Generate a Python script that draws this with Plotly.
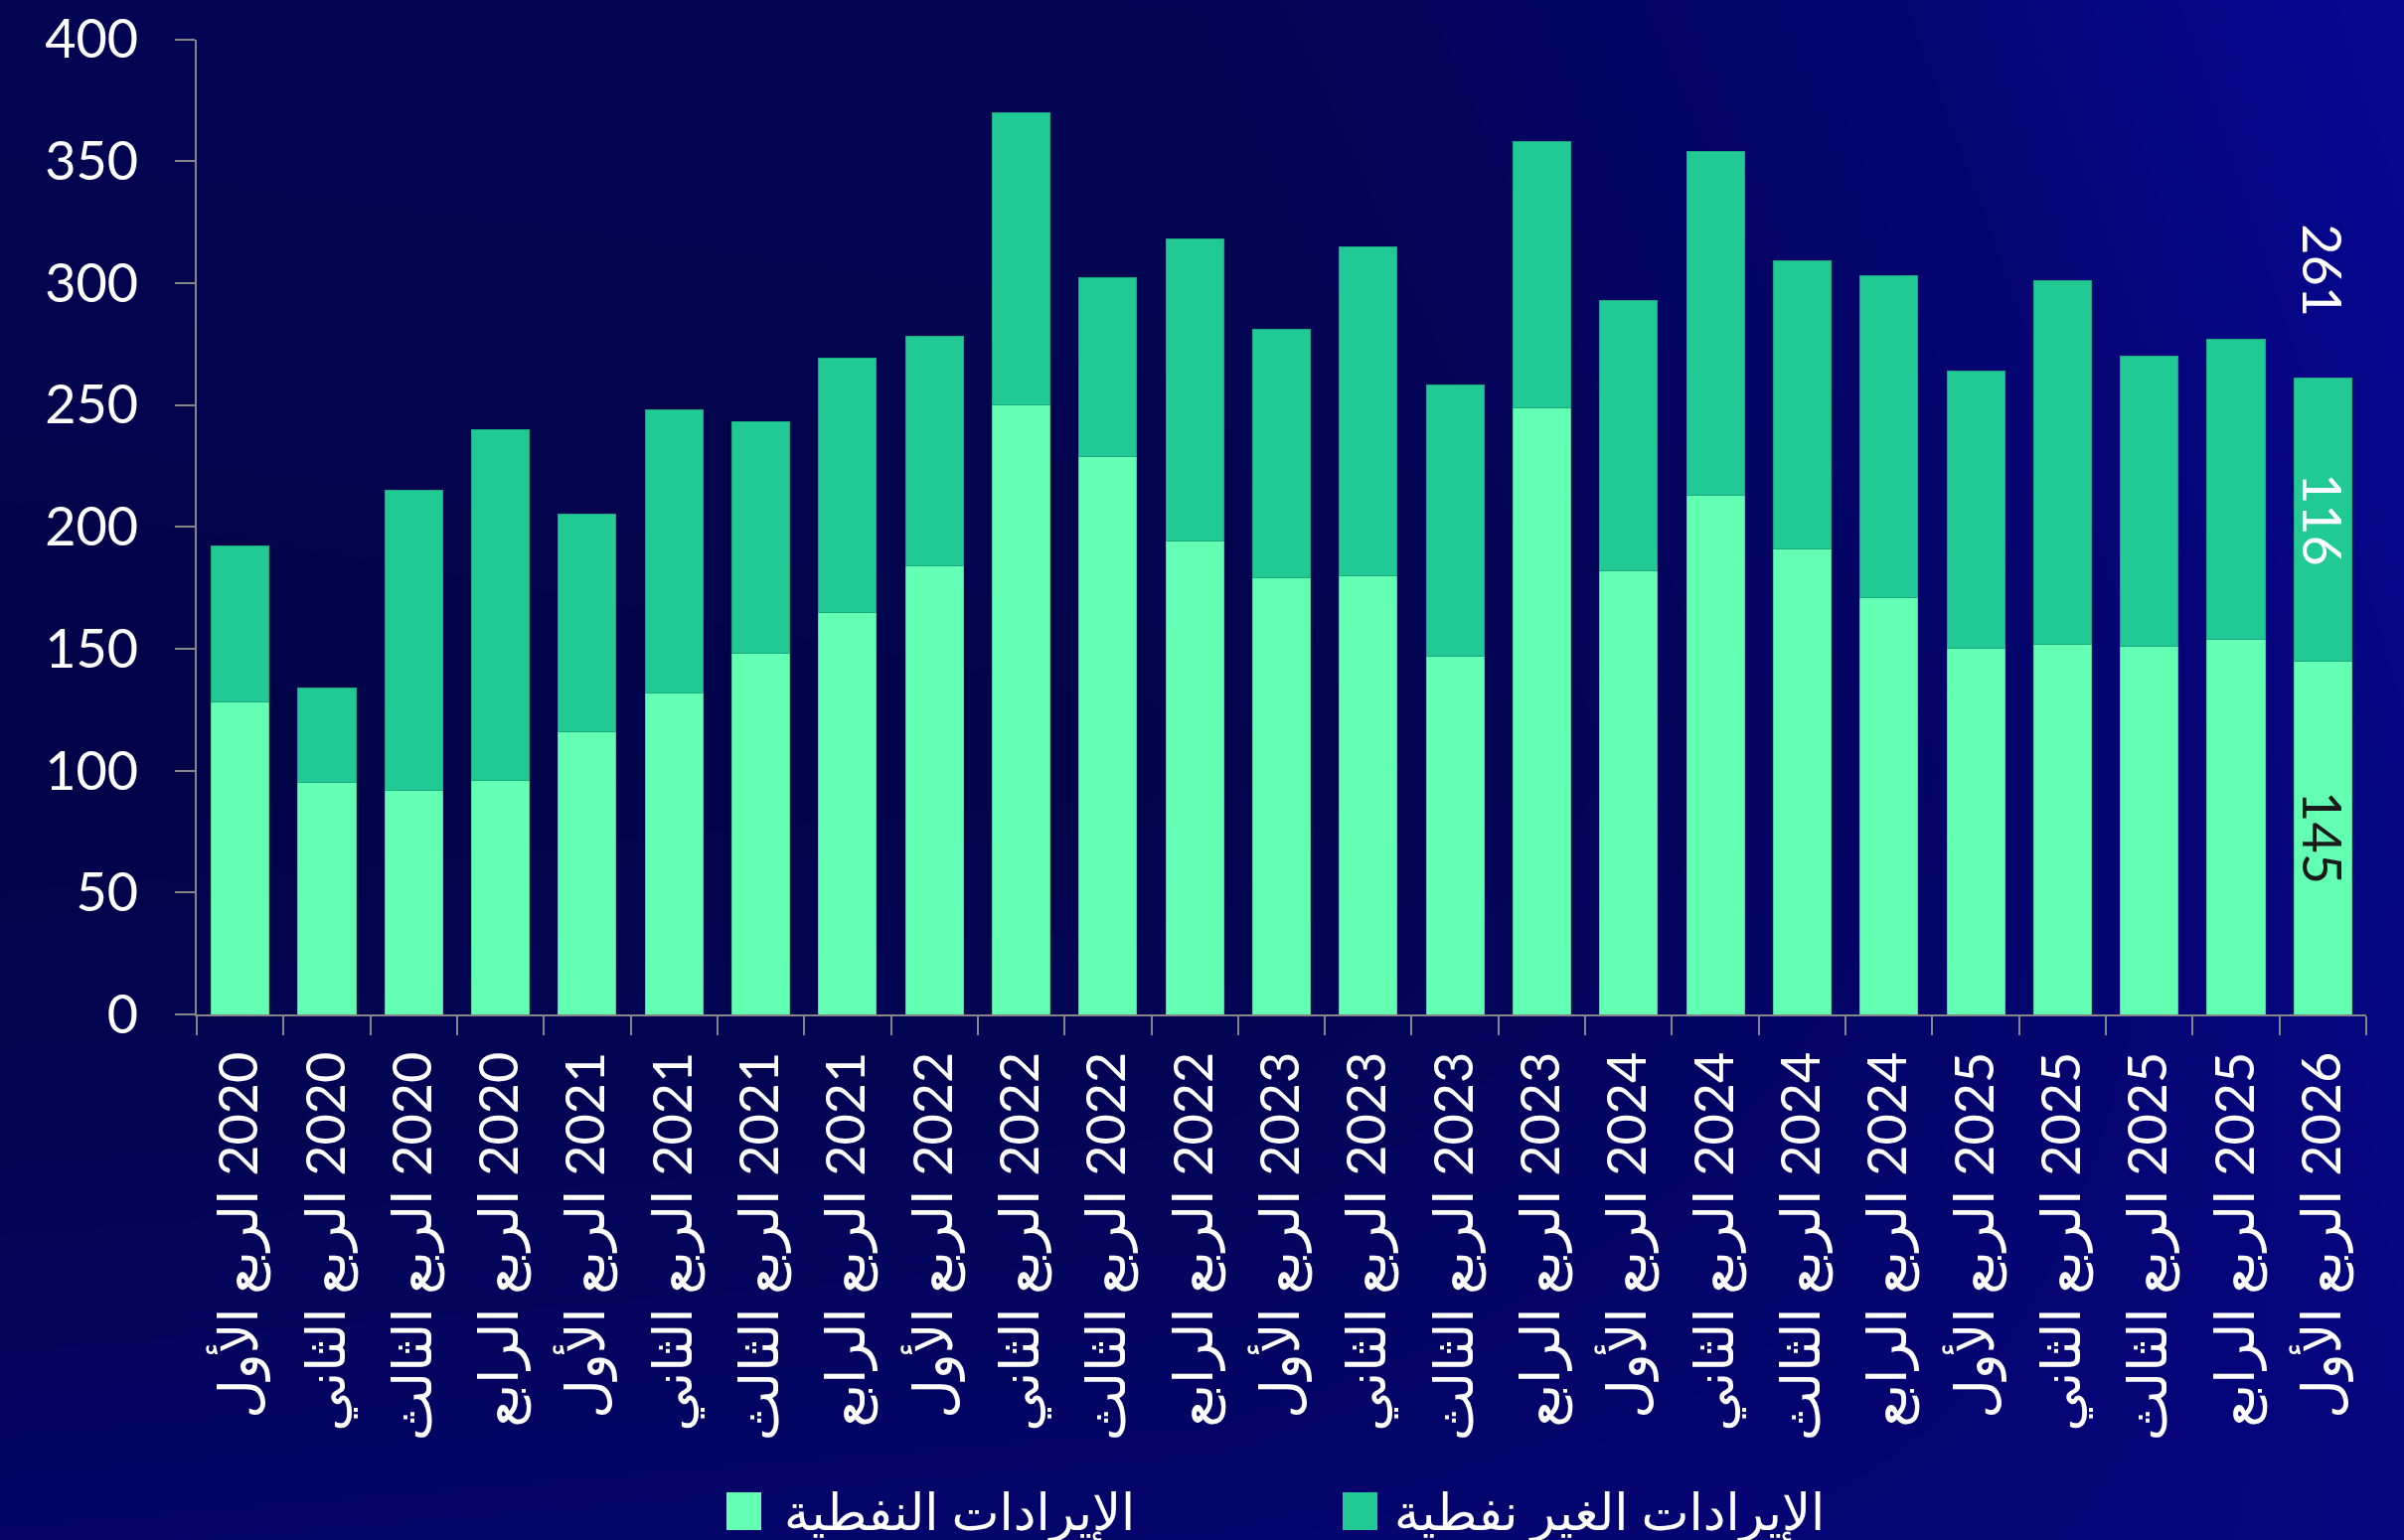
import plotly.graph_objects as go

# ---------------- data ----------------
years = [2020, 2020, 2020, 2020, 2021, 2021, 2021, 2021, 2022, 2022, 2022, 2022,
         2023, 2023, 2023, 2023, 2024, 2024, 2024, 2024, 2025, 2025, 2025, 2025, 2026]
quarters = ["الأول", "الثاني", "الثالث", "الرابع",
            "الأول", "الثاني", "الثالث", "الرابع",
            "الأول", "الثاني", "الثالث", "الرابع",
            "الأول", "الثاني", "الثالث", "الرابع",
            "الأول", "الثاني", "الثالث", "الرابع",
            "الأول", "الثاني", "الثالث", "الرابع",
            "الأول"]
oil_revenue = [128, 95, 92, 96, 116, 132, 148, 165, 184, 250, 229, 194, 179,
               180, 147, 249, 182, 213, 191, 171, 150, 152, 151, 154, 145]
non_oil_revenue = [64, 39, 123, 144, 89, 116, 95, 104, 94, 120, 73, 124, 102,
                   135, 111, 109, 111, 141, 118, 132, 114, 149, 119, 123, 116]
oil_name = "الإيرادات النفطية"
non_oil_name = "الإيرادات الغير نفطية"
y_ticks = [0, 50, 100, 150, 200, 250, 300, 350, 400]

# category labels (RLM keeps the right-to-left reading order in the SVG text)
categories = ["\u200F" + f"{y} الربع {q}" for y, q in zip(years, quarters)]
last = len(categories) - 1
oil_text = ["" for _ in oil_revenue]
oil_text[last] = str(oil_revenue[last])
non_oil_text = ["" for _ in non_oil_revenue]
non_oil_text[last] = str(non_oil_revenue[last])
total_last = oil_revenue[last] + non_oil_revenue[last]

# ---------------- styling ----------------
W, H = 2419, 1550
PL, PR, PT, PB = 198, 2381, 39.5, 1021
FONT = "Lato, 'Open Sans', 'DejaVu Sans', sans-serif"
OIL_C = "#63FFB3"
NONOIL_C = "#21C994"
AXIS_C = "#858585"

fig = go.Figure()

# background gradient (decorative) on full-figure axes
bg_cs = [[0.0, "#010340"], [0.35, "#020555"], [0.6, "#04056C"],
         [0.8, "#06068A"], [1.0, "#0909A2"]]
fig.add_trace(go.Heatmap(
    x=[-0.05, 0.5, 1.05], y=[-0.05, 0.5, 1.05],
    z=[[0.58, 0.64, 0.72],
       [0.12, 0.18, 0.82],
       [0.33, 0.36, 0.93]],
    colorscale=bg_cs, zmin=0, zmax=1, zsmooth="best",
    showscale=False, hoverinfo="skip", xaxis="x", yaxis="y", showlegend=False))

fig.add_trace(go.Bar(
    x=categories, y=oil_revenue, name=oil_name, showlegend=False,
    marker=dict(color=OIL_C, line=dict(color="#4FD39A", width=1)),
    text=oil_text, textposition="inside", insidetextanchor="middle",
    textangle=90, constraintext="none",
    textfont=dict(color="#1A1A1A", size=54, family=FONT),
    xaxis="x2", yaxis="y2"))
fig.add_trace(go.Bar(
    x=categories, y=non_oil_revenue, name=non_oil_name, showlegend=False,
    marker=dict(color=NONOIL_C, line=dict(color="#1AA880", width=1)),
    text=non_oil_text, textposition="inside", insidetextanchor="middle",
    textangle=90, constraintext="none",
    textfont=dict(color="white", size=54, family=FONT),
    xaxis="x2", yaxis="y2"))

fig.add_annotation(
    x=categories[last], y=total_last, xref="x2", yref="y2",
    text=str(total_last), textangle=90, showarrow=False,
    yanchor="middle", yshift=108,
    font=dict(color="white", size=54, family=FONT))

# custom legend (swatch + label) at the bottom
legend_items = [(oil_name, OIL_C, 731, 787), (non_oil_name, NONOIL_C, 1351, 1401)]
LEG_Y = 1521
for name, color, sx, tx in legend_items:
    fig.add_shape(type="rect", xref="paper", yref="paper",
                  x0=sx / W, x1=(sx + 35) / W,
                  y0=1 - (LEG_Y + 19) / H, y1=1 - (LEG_Y - 19) / H,
                  fillcolor=color, line=dict(width=0), layer="above")
    fig.add_annotation(x=tx / W, y=1 - LEG_Y / H, xref="paper", yref="paper",
                       text=name, showarrow=False, xanchor="left", yanchor="middle",
                       font=dict(family=FONT, color="white", size=51))

fig.update_layout(
    width=W, height=H,
    template="none",
    margin=dict(l=0, r=0, t=0, b=0, autoexpand=False),
    paper_bgcolor="#02045A",
    plot_bgcolor="rgba(0,0,0,0)",
    barmode="stack",
    bargap=0.335,
    showlegend=False,
    font=dict(family=FONT, color="white", size=54),
    xaxis=dict(domain=[0, 1], range=[0, 1], visible=False, fixedrange=True),
    yaxis=dict(domain=[0, 1], range=[0, 1], visible=False, fixedrange=True),
    xaxis2=dict(
        domain=[PL / W, PR / W], anchor="y2",
        type="category", tickson="boundaries",
        ticks="outside", ticklen=19, tickwidth=2, tickcolor=AXIS_C,
        showline=True, linecolor=AXIS_C, linewidth=2,
        showgrid=False, zeroline=False, tickangle=-90,
        ticklabelstandoff=14,
        tickfont=dict(family=FONT, color="white", size=54),
        automargin=False),
    yaxis2=dict(
        domain=[1 - PB / H, 1 - PT / H], anchor="x2",
        range=[0, 400], tickvals=y_ticks,
        ticks="outside", ticklen=20, tickwidth=2, tickcolor=AXIS_C,
        showline=True, linecolor=AXIS_C, linewidth=2,
        showgrid=False, zeroline=False,
        ticklabelstandoff=26,
        tickfont=dict(family=FONT, color="white", size=54),
        automargin=False),
)

fig.write_html("out.html",
               config={"displayModeBar": False},
               post_script="document.body.style.margin='0px';"
                           "document.body.style.background='#02045A';")
